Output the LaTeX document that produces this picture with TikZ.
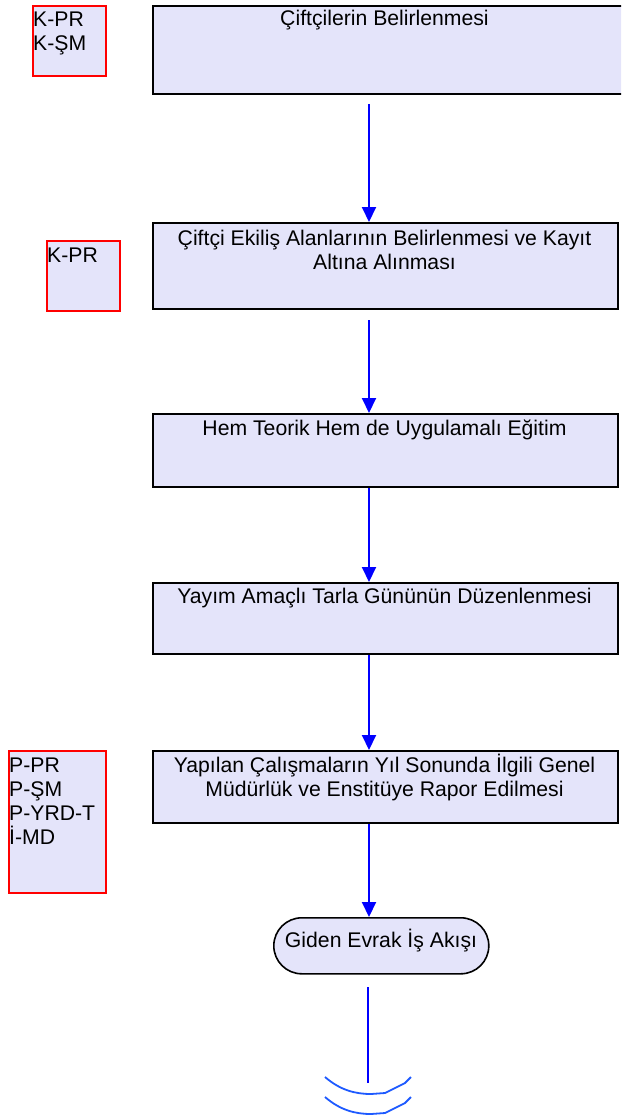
\documentclass[tikz,border=0pt]{standalone}
\usepackage{fontspec}
\setmainfont{Liberation Sans}
\usetikzlibrary{arrows.meta}
\definecolor{boxfill}{RGB}{228,228,250}
\definecolor{arcblue}{RGB}{30,90,255}
\tikzset{
  mainbox/.style={draw=black, line width=2pt, fill=boxfill, minimum width=465pt, anchor=north west, inner sep=0pt},
  rolebox/.style={draw=red, line width=1.8pt, fill=boxfill, anchor=north west, inner sep=0pt},
  txt/.style={font=\fontsize{21.2}{24}\selectfont, inner sep=0pt, align=center, anchor=base},
  rtxt/.style={font=\fontsize{21.2}{24}\selectfont, inner sep=0pt, align=left, anchor=base west},
  flow/.style={draw=blue, line width=2pt, -{Triangle[length=15pt,width=14pt]}},
  term/.style={draw=black, line width=1.6pt, fill=boxfill, rounded corners=28pt, minimum width=215pt, minimum height=56pt, anchor=north west, inner sep=0pt}
}
\begin{document}
\begin{tikzpicture}[x=1pt,y=-1pt]
\useasboundingbox (0,0) rectangle (621,1118);
\clip (0,0) rectangle (621,1118);
% main boxes
\node[mainbox, minimum width=475pt, minimum height=88pt] (b1) at (152,5) {};
\node[mainbox, minimum height=86pt] (b2) at (152,222) {};
\node[mainbox, minimum height=73pt] (b3) at (152,413) {};
\node[mainbox, minimum height=71pt] (b4) at (152,582) {};
\node[mainbox, minimum height=72pt] (b5) at (152,750) {};
\node[txt] (t1) at (384.5,26) {Çiftçilerin Belirlenmesi};
\node[txt] (t2) at (384.5,269) {Çiftçi Ekiliş Alanlarının Belirlenmesi ve Kayıt\\Altına Alınması};
\node[txt] (t3) at (384.5,435) {Hem Teorik Hem de Uygulamalı Eğitim};
\node[txt] (t4) at (384.5,603) {Yayım Amaçlı Tarla Gününün Düzenlenmesi};
\node[txt] (t5) at (384.5,796) {Yapılan Çalışmaların Yıl Sonunda İlgili Genel\\Müdürlük ve Enstitüye Rapor Edilmesi};
% role boxes
\node[rolebox, minimum width=73pt, minimum height=70pt] (r1) at (32,5) {};
\node[rtxt] (rt1) at (33,51) {K-PR\\K-ŞM};
\node[rolebox, minimum width=73pt, minimum height=70pt] (r2) at (46,240) {};
\node[rtxt] (rt2) at (47,262) {K-PR};
\node[rolebox, minimum width=97pt, minimum height=142pt] (r3) at (8,750) {};
\node[rtxt] (rt3) at (9,844) {P-PR\\P-ŞM\\P-YRD-T\\İ-MD};
% terminal
\node[term] (end) at (273,917) {};
\node[txt] (te) at (381,947) {Giden Evrak İş Akışı};
% connectors
\coordinate (ax) at (369,0);
\draw[flow] ([yshift=-9pt]b1.south -| ax) -- (b2.north -| ax);
\draw[flow] ([yshift=-10pt]b2.south -| ax) -- (b3.north -| ax);
\draw[flow] (b3.south -| ax) -- (b4.north -| ax);
\draw[flow] (b4.south -| ax) -- (b5.north -| ax);
\draw[flow] (b5.south -| ax) -- (end.north -| ax);
\coordinate (ls) at (368,987);
\coordinate (le) at (368,1083);
\draw[draw=blue, line width=1.8pt] (ls) -- (le);
\draw[draw=arcblue, line width=1.8pt] (325,1077) .. controls (340,1090) and (355,1094) .. (371,1094) -- (385,1093) -- (405,1083) -- (411,1077);
\draw[draw=arcblue, line width=1.8pt] (325,1097) .. controls (340,1110) and (355,1114) .. (371,1114) -- (385,1113) -- (405,1103) -- (411,1097);
\end{tikzpicture}
\end{document}
